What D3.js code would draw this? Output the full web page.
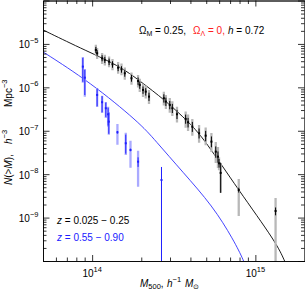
<html>
<head>
<meta charset="UTF-8">
<title>N(>M)</title>
<script src="https://cdn.jsdelivr.net/npm/d3@7"></script>
<style>
  body { margin: 0; background: #fff; }
  text { font-family: "Liberation Sans", Arial, sans-serif; fill: #000; }
  .tick line { stroke: #000; stroke-width: 0.8; }
  .domain { stroke: #000; stroke-width: 0.8; }
</style>
</head>
<body>
<svg id="chart" width="305" height="291"></svg>
<script>
// low-z sample, z = 0.025-0.25
var blackM = [1.054e14, 1.073e14, 1.151e14, 1.196e14, 1.27e14, 1.333e14, 1.443e14, 1.513e14, 1.585e14, 1.742e14,
              1.912e14, 1.958e14, 2.05e14, 2.13e14, 2.23e14, 2.75e14, 2.83e14, 2.99e14, 3.10e14, 3.31e14,
              3.74e14, 3.87e14, 4.11e14, 4.52e14, 4.96e14, 5.38e14, 5.72e14, 5.90e14, 5.99e14, 6.13e14,
              7.91e14, 1.33e15];
var blackN = [7.27e-6, 6.10e-6, 4.68e-6, 4.28e-6, 3.91e-6, 3.40e-6, 2.84e-6, 2.61e-6, 2.11e-6, 1.62e-6,
              1.40e-6, 1.135e-6, 8.71e-7, 7.96e-7, 6.11e-7, 5.61e-7, 4.69e-7, 3.93e-7, 3.30e-7, 2.40e-7,
              1.87e-7, 1.57e-7, 1.24e-7, 8.75e-8, 7.71e-8, 5.61e-8, 3.30e-8, 2.53e-8, 1.78e-8, 1.07e-8,
              4.33e-9, 1.42e-9];
// error bars in dex: outer (grey) and inner (black)
var blackErrHi = [0.12, 0.12, 0.12, 0.12, 0.12, 0.12, 0.13, 0.13, 0.13, 0.13, 0.14, 0.14, 0.14, 0.14, 0.15, 0.15,
                  0.15, 0.16, 0.16, 0.17, 0.17, 0.18, 0.18, 0.19, 0.19, 0.2, 0.22, 0.22, 0.14, 0.23, 0.25, 0.3];
var blackErrLo = [0.13, 0.13, 0.13, 0.13, 0.13, 0.14, 0.14, 0.14, 0.15, 0.15, 0.15, 0.16, 0.16, 0.16, 0.17, 0.17,
                  0.17, 0.18, 0.18, 0.19, 0.2, 0.2, 0.21, 0.22, 0.22, 0.24, 0.26, 0.26, 0.16, 0.46, 0.6, 1.3];
var blackInHi = [0.07, 0.07, 0.07, 0.07, 0.07, 0.07, 0.07, 0.07, 0.08, 0.08, 0.08, 0.08, 0.08, 0.08, 0.09, 0.09,
                 0.09, 0.09, 0.1, 0.1, 0.1, 0.1, 0.11, 0.11, 0.11, 0.12, 0.12, 0.12, 0.1, 0.23, 0.05, 0.08];
var blackInLo = [0.07, 0.07, 0.07, 0.07, 0.08, 0.08, 0.08, 0.08, 0.08, 0.08, 0.09, 0.09, 0.09, 0.09, 0.1, 0.1,
                 0.1, 0.1, 0.11, 0.11, 0.11, 0.12, 0.12, 0.12, 0.13, 0.13, 0.14, 0.14, 0.1, 0.46, 0.06, 0.1];

// high-z sample, z = 0.55-0.90
var blueM = [8.77e13, 9.02e13, 1.073e14, 1.151e14, 1.213e14, 1.253e14, 1.265e14, 1.429e14, 1.607e14, 1.718e14, 1.912e14, 2.66e14];
var blueN = [3.0e-6, 1.67e-6, 6.68e-7, 4.54e-7, 3.30e-7, 2.40e-7, 1.62e-7, 9.23e-8, 5.15e-8, 3.61e-8, 1.94e-8, 7.34e-9];
var blueErrHi = [0.22, 0.2, 0.16, 0.15, 0.145, 0.175, 0.22, 0.19, 0.24, 0.21, 0.25, 0];
var blueErrLo = [0.37, 0.44, 0.28, 0.25, 0.225, 0.286, 0.3, 0.29, 0.27, 0.41, 0.58, 0];
var blueInHi = [0.2, 0.18, 0.15, 0.14, 0.13, 0.15, 0.2, 0.03, 0.2, 0.03, 0.1, 0.3];
var blueInLo = [0.35, 0.4, 0.26, 0.23, 0.2, 0.26, 0.28, 0.03, 0.24, 0.03, 0.12, 2.5];

// model curves
var blackCurveM = [5e13, 8.41e13, 1.477e14, 1.959e14, 2.786e14, 3.963e14, 4.898e14, 7.80e14, 1.349e15, 1.51e15, 1.62e15];
var blackCurveN = [2.10e-5, 8.09e-6, 3.11e-6, 1.40e-6, 5.13e-7, 1.51e-7, 6.14e-8, 4.56e-9, 2.60e-10, 1e-10, 5.6e-11];
var blueCurveM = [5e13, 9.68e13, 1.959e14, 2.42e14, 3.59e14, 5.48e14, 7.36e14, 8.51e14, 8.99e14];
var blueCurveN = [6.55e-6, 1.33e-6, 1.51e-7, 6.14e-8, 1.12e-8, 1.85e-9, 3.05e-10, 1e-10, 5.6e-11];

var xMajor = [1e14, 1e15];
var xLabels = ["14", "15"];
var yMajor = [1e-10, 1e-9, 1e-8, 1e-7, 1e-6, 1e-5, 1e-4];
var yLabels = ["", "−9", "−8", "−7", "−6", "−5", ""];

var L = 43, R = 304.5, T = 0.5, B = 261;
var svg = d3.select("#chart");
var x = d3.scaleLog().domain([5e13, 2e15]).range([L, R]);
var y = d3.scaleLog().domain([1e-10, 1e-4]).range([B, T]);

var xMinor = [], yMinor = [];
[1e13, 1e14, 1e15].forEach(function(d){
    for (var k = 2; k <= 9; k++) { var v = d * k; if (v > 5e13 && v < 2e15 && v != 1e14 && v != 1e15) xMinor.push(v); }
});
yMajor.slice(0, -1).forEach(function(d){
    for (var k = 2; k <= 9; k++) yMinor.push(d * k);
});

svg.append("clipPath").attr("id", "clip")
   .append("rect").attr("x", L).attr("y", T).attr("width", R - L).attr("height", B - T);

var plot = svg.append("g").attr("clip-path", "url(#clip)");

var line = d3.line().x(function(d){ return x(d[0]); }).y(function(d){ return y(d[1]); }).curve(d3.curveBasis);

plot.append("path")
    .datum(d3.zip(blackCurveM, blackCurveN))
    .attr("fill", "none").attr("stroke", "#000").attr("stroke-width", 0.9)
    .attr("d", line);
plot.append("path")
    .datum(d3.zip(blueCurveM, blueCurveN))
    .attr("fill", "none").attr("stroke", "#3030ff").attr("stroke-width", 0.9)
    .attr("d", line);

function drawSeries(M, N, eHi, eLo, iHi, iLo, light, dark) {
    var pts = M.map(function(m, i){
        return { m: m, n: N[i], eh: eHi[i], el: eLo[i], ih: iHi[i], il: iLo[i] };
    });
    plot.selectAll(null).data(pts.filter(function(d){ return d.eh + d.el > 0; })).enter().append("line")
        .attr("x1", function(d){ return x(d.m); }).attr("x2", function(d){ return x(d.m); })
        .attr("y1", function(d){ return y(d.n * Math.pow(10, d.eh)); })
        .attr("y2", function(d){ return y(d.n / Math.pow(10, d.el)); })
        .attr("stroke", light).attr("stroke-width", 2.3);
    plot.selectAll(null).data(pts).enter().append("line")
        .attr("x1", function(d){ return x(d.m); }).attr("x2", function(d){ return x(d.m); })
        .attr("y1", function(d){ return y(d.n * Math.pow(10, d.ih)); })
        .attr("y2", function(d){ return y(d.n / Math.pow(10, d.il)); })
        .attr("stroke", dark).attr("stroke-width", 1);
    plot.selectAll(null).data(pts).enter().append("rect")
        .attr("x", function(d){ return x(d.m) - 1; })
        .attr("y", function(d){ return y(d.n) - 1; })
        .attr("width", 2).attr("height", 2)
        .attr("fill", dark);
}
drawSeries(blackM, blackN, blackErrHi, blackErrLo, blackInHi, blackInLo, "#b8b8b8", "#000");
drawSeries(blueM, blueN, blueErrHi, blueErrLo, blueInHi, blueInLo, "#aaaaff", "#2020ff");

// axes, ticks pointing inward on all four sides
function addAxis(axis, tx, ty) {
    return svg.append("g").attr("transform", "translate(" + tx + "," + ty + ")").call(axis);
}
addAxis(d3.axisBottom(x).tickValues(xMajor).tickSizeInner(-6).tickSizeOuter(0).tickFormat(""), 0, B);
addAxis(d3.axisBottom(x).tickValues(xMinor).tickSizeInner(-3.5).tickSizeOuter(0).tickFormat(""), 0, B);
addAxis(d3.axisTop(x).tickValues(xMajor).tickSizeInner(-6).tickSizeOuter(0).tickFormat(""), 0, T);
addAxis(d3.axisTop(x).tickValues(xMinor).tickSizeInner(-3.5).tickSizeOuter(0).tickFormat(""), 0, T);
addAxis(d3.axisLeft(y).tickValues(yMajor).tickSizeInner(-6.5).tickSizeOuter(0).tickFormat(""), L, 0);
addAxis(d3.axisLeft(y).tickValues(yMinor).tickSizeInner(-3.5).tickSizeOuter(0).tickFormat(""), L, 0);
addAxis(d3.axisRight(y).tickValues(yMajor).tickSizeInner(-6.5).tickSizeOuter(0).tickFormat(""), R, 0);
addAxis(d3.axisRight(y).tickValues(yMinor).tickSizeInner(-3.5).tickSizeOuter(0).tickFormat(""), R, 0);

// tick labels: 10^n
xMajor.forEach(function(v, i){
    var t = svg.append("text").attr("x", x(v)).attr("y", 277).attr("text-anchor", "middle").attr("font-size", 10);
    t.append("tspan").text("10");
    t.append("tspan").attr("dy", -5.5).attr("font-size", 7.5).text(xLabels[i]);
});
yMajor.forEach(function(v, i){
    if (!yLabels[i]) return;
    var t = svg.append("text").attr("x", 38.5).attr("y", y(v) + 4.5).attr("text-anchor", "end").attr("font-size", 10);
    t.append("tspan").text("10");
    t.append("tspan").attr("dy", -5.5).attr("font-size", 7.5).text(yLabels[i]);
});

// x title
var xt = svg.append("text").attr("y", 287).attr("font-size", 10);
xt.append("tspan").attr("x", 140).attr("font-style", "italic").text("M");
xt.append("tspan").attr("dy", 2).attr("font-size", 7.5).text("500");
xt.append("tspan").attr("dy", -2).text(",");
xt.append("tspan").attr("x", 167).attr("font-style", "italic").text("h");
xt.append("tspan").attr("dy", -5).attr("font-size", 7.5).text("−1");
xt.append("tspan").attr("x", 185).attr("dy", 5).attr("font-style", "italic").text("M");
xt.append("tspan").attr("dy", 2).attr("font-size", 7).text("⊙");

// y title
var yg = svg.append("g").attr("transform", "translate(12,185) rotate(-90)");
var yt = yg.append("text").attr("font-size", 10);
yt.append("tspan").attr("x", 0).attr("font-style", "italic").text("N");
yt.append("tspan").text("(>");
yt.append("tspan").attr("font-style", "italic").text("M");
yt.append("tspan").text("),");
yt.append("tspan").attr("x", 41).attr("font-style", "italic").text("h");
yt.append("tspan").attr("dy", -5).attr("font-size", 7.5).text("−3");
yt.append("tspan").attr("x", 78).attr("dy", 5).text("Mpc");
yt.append("tspan").attr("dy", -5).attr("font-size", 7.5).text("−3");

// cosmology label
var ct = svg.append("text").attr("y", 33.5).attr("font-size", 10);
ct.append("tspan").attr("x", 139).text("Ω");
ct.append("tspan").attr("dy", 2).attr("font-size", 7).text("M");
ct.append("tspan").attr("dy", -2).text(" = 0.25,");
ct.append("tspan").attr("x", 193).attr("fill", "#ff2020").text("Ω");
ct.append("tspan").attr("dy", 2).attr("font-size", 7).attr("fill", "#ff2020").text("Λ");
ct.append("tspan").attr("dy", -2).attr("fill", "#ff2020").text(" = 0,");
ct.append("tspan").attr("x", 228).attr("font-style", "italic").text("h");
ct.append("tspan").text(" = 0.72");

// redshift labels
var z1 = svg.append("text").attr("x", 57).attr("y", 224).attr("font-size", 10);
z1.append("tspan").attr("font-style", "italic").text("z");
z1.append("tspan").text(" = 0.025 − 0.25");
var z2 = svg.append("text").attr("x", 57).attr("y", 241).attr("font-size", 10).style("fill", "#2020ff");
z2.append("tspan").attr("font-style", "italic").style("fill", "#2020ff").text("z");
z2.append("tspan").style("fill", "#2020ff").text(" = 0.55 − 0.90");
</script>
</body>
</html>
